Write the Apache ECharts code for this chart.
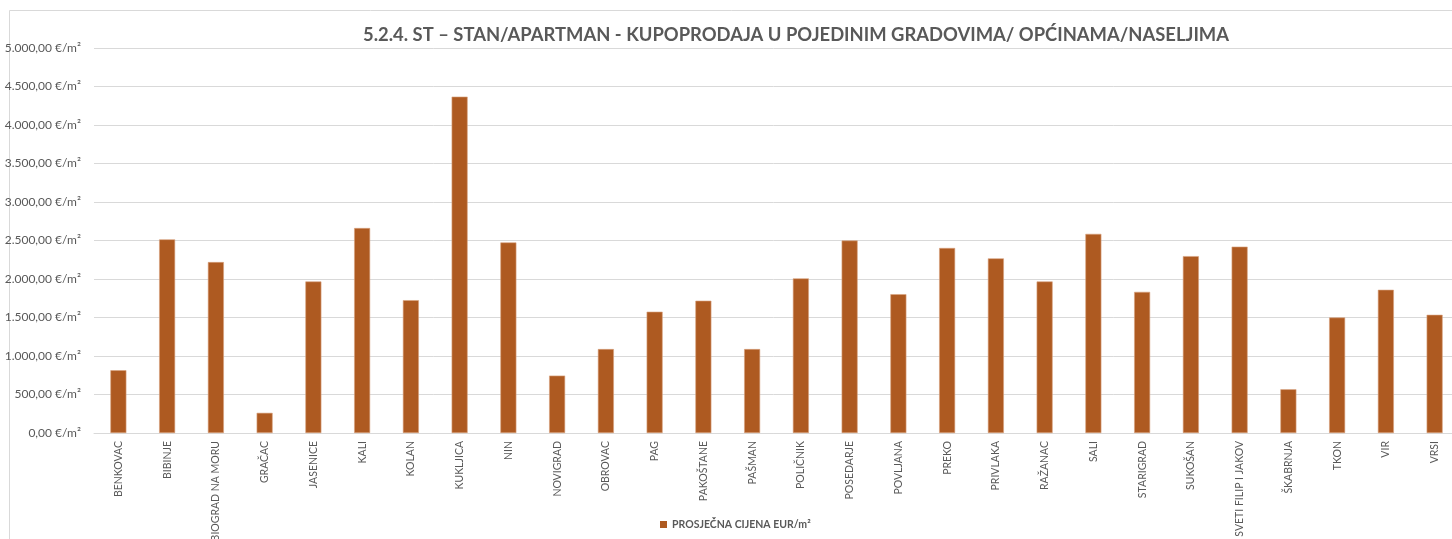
<!DOCTYPE html>
<html>
<head>
<meta charset="utf-8">
<title>Stan/apartman - kupoprodaja</title>
<script src="https://cdn.jsdelivr.net/npm/echarts@6/dist/echarts.min.js"></script>
<style>
  html, body { margin: 0; padding: 0; background: #fff; }
  #chart { width: 1452px; height: 539px; }
</style>
</head>
<body>
<div id="chart"></div>
<script>
var gradovi = ['BENKOVAC', 'BIBINJE', 'BIOGRAD NA MORU', 'GRAČAC', 'JASENICE', 'KALI', 'KOLAN', 'KUKLJICA',
  'NIN', 'NOVIGRAD', 'OBROVAC', 'PAG', 'PAKOŠTANE', 'PAŠMAN', 'POLIČNIK', 'POSEDARJE', 'POVLJANA',
  'PREKO', 'PRIVLAKA', 'RAŽANAC', 'SALI', 'STARIGRAD', 'SUKOŠAN', 'SVETI FILIP I JAKOV', 'ŠKABRNJA',
  'TKON', 'VIR', 'VRSI'];
var cijene = [815, 2515, 2220, 262, 1968, 2662, 1725, 4368,
  2475, 745, 1090, 1575, 1718, 1090, 2008, 2500, 1803,
  2403, 2268, 1968, 2586, 1833, 2297, 2420, 568,
  1500, 1860, 1535];
var serijaNaziv = 'PROSJEČNA CIJENA EUR/m²';
var naslov = '5.2.4. ST – STAN/APARTMAN - KUPOPRODAJA U POJEDINIM GRADOVIMA/ OPĆINAMA/NASELJIMA';
var yMin = 0, yMax = 5000, yKorak = 500;

function formatEur(v) {
  var s = v.toFixed(2).split('.');
  var cijeli = s[0].replace(/\B(?=(\d{3})+(?!\d))/g, '.');
  return cijeli + ',' + s[1] + ' €/m²';
}

var myChart = echarts.init(document.getElementById('chart'));
var font = 'Lato, "Open Sans", sans-serif';
var option = {
  backgroundColor: '#fff',
  textStyle: { fontFamily: font },
  animation: false,
  graphic: [{
    type: 'rect',
    shape: { x: 9.5, y: 10.5, width: 1600, height: 600 },
    style: { fill: 'none', stroke: '#d9d9d9', lineWidth: 1 },
    silent: true
  }],
  title: {
    text: naslov,
    left: 791,
    top: 21,
    textAlign: 'center',
    textStyle: { fontFamily: font, fontSize: 18.4, fontWeight: 'bold', color: '#595959' }
  },
  legend: {
    data: [serijaNaziv],
    left: 655,
    top: 514,
    icon: 'rect',
    itemWidth: 7,
    itemHeight: 7,
    itemGap: 5,
    itemStyle: { borderWidth: 0 },
    textStyle: { fontFamily: font, fontSize: 10.5, fontWeight: 'bold', color: '#595959' }
  },
  grid: { left: 94, right: -7, top: 48, bottom: 106, containLabel: false, outerBoundsMode: 'none' },
  xAxis: {
    type: 'category',
    data: gradovi,
    axisLine: { lineStyle: { color: '#d9d9d9', width: 1 } },
    axisTick: { show: false },
    axisLabel: { rotate: 90, interval: 0, margin: 8, fontSize: 10.5, color: '#595959', fontFamily: font }
  },
  yAxis: {
    type: 'value',
    min: yMin,
    max: yMax,
    interval: yKorak,
    axisLine: { show: false },
    axisTick: { show: false },
    splitLine: { lineStyle: { color: '#d9d9d9', width: 1 } },
    axisLabel: { formatter: formatEur, fontSize: 12, color: '#595959', margin: 13, fontFamily: font }
  },
  series: [{
    name: serijaNaziv,
    type: 'bar',
    data: cijene,
    barWidth: 16,
    itemStyle: { color: '#ae5a21', borderColor: '#d9a27f', borderWidth: 0.6 }
  }]
};
myChart.setOption(option);
window.addEventListener('resize', function () {
  myChart.resize();
});
</script>
</body>
</html>
